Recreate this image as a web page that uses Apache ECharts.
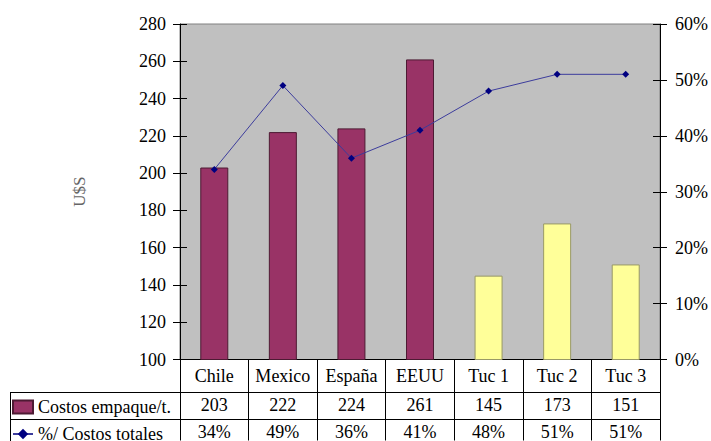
<!DOCTYPE html>
<html><head><meta charset="utf-8">
<script src="https://cdn.jsdelivr.net/npm/echarts@6/dist/echarts.min.js"></script>
<style>html,body{margin:0;padding:0;background:#fff}#c{width:711px;height:441px}</style>
</head><body><div id="c"></div>
<script>
const categories = ['Chile', 'Mexico', 'España', 'EEUU', 'Tuc 1', 'Tuc 2', 'Tuc 3'];
const costosEmpaque = [203, 222, 224, 261, 145, 173, 151];
const pctCostosTotales = [34, 49, 36, 41, 48, 51, 51];
const nombreBarras = 'Costos empaque/t.';
const nombreLinea = '%/ Costos totales';

const FONT = "'Times New Roman', 'DejaVu Serif', serif";
const FS = 18;
const chart = echarts.init(document.getElementById('c'), null, {renderer: 'svg'});
const tickBase = {lineStyle: {color: '#000', width: 1}, length: 7};
const legText = {fontFamily: FONT, fontSize: FS, color: '#000'};

chart.setOption({
  animation: false,
  textStyle: {fontFamily: FONT},
  grid: {left: 180, right: 51, top: 24, bottom: 81, show: true, backgroundColor: '#C0C0C0', borderColor: '#808080', borderWidth: 1},
  legend: [
    {left: 12, top: 398, itemWidth: 20, itemHeight: 13, itemGap: 0, padding: 0,
     textStyle: legText, data: [{name: nombreBarras, icon: 'rect'}]},
    {left: 12, top: 425, itemWidth: 20, itemHeight: 13, itemGap: 0, padding: 0,
     textStyle: legText, data: [{name: nombreLinea}]}
  ],
  xAxis: {
    type: 'category', data: categories, boundaryGap: true,
    axisLine: {lineStyle: {color: '#000', width: 1}},
    axisTick: {show: true, length: 81, inside: false, lineStyle: {color: '#000', width: 1}},
    axisLabel: {
      margin: 0, interval: 0,
      formatter: (v, i) => '{a|' + v + '}\n{b|' + costosEmpaque[i] + '}\n{c|' + pctCostosTotales[i] + '%}',
      rich: {
        a: {fontFamily: FONT, fontSize: FS, color: '#000', lineHeight: 32},
        b: {fontFamily: FONT, fontSize: FS, color: '#000', lineHeight: 27},
        c: {fontFamily: FONT, fontSize: FS, color: '#000', lineHeight: 27}
      }
    },
    splitLine: {show: false}
  },
  yAxis: [
    {type: 'value', position: 'left', min: 100, max: 280, interval: 20,
     name: 'U$S', nameLocation: 'middle', nameGap: 92, nameRotate: 90,
     nameTextStyle: {fontFamily: FONT, fontSize: 17, color: '#666'},
     axisLine: {show: true, lineStyle: {color: '#000'}},
     axisTick: Object.assign({show: true, inside: false}, tickBase),
     axisLabel: {fontFamily: FONT, fontSize: FS, color: '#000', margin: 14},
     splitLine: {show: false}},
    {type: 'value', position: 'right', min: 0, max: 60, interval: 10,
     axisLine: {show: true, lineStyle: {color: '#000'}},
     axisTick: Object.assign({show: true, inside: false}, tickBase),
     axisLabel: {fontFamily: FONT, fontSize: FS, color: '#000', margin: 15, formatter: '{value}%'},
     splitLine: {show: false}},
    {type: 'value', position: 'left', offset: 0, min: 100, max: 280, interval: 20,
     axisLine: {show: false}, axisLabel: {show: false}, splitLine: {show: false},
     axisTick: Object.assign({show: true, inside: true}, tickBase)},
    {type: 'value', position: 'right', offset: 0, min: 0, max: 60, interval: 10,
     axisLine: {show: false}, axisLabel: {show: false}, splitLine: {show: false},
     axisTick: Object.assign({show: true, inside: true}, tickBase)}
  ],
  series: [
    {name: nombreBarras, type: 'bar', yAxisIndex: 0, barWidth: 28,
     itemStyle: {color: '#993366', borderColor: '#4d1a33', borderWidth: 1},
     data: costosEmpaque.map((v, i) => i >= 4 ? {value: v, itemStyle: {color: '#FFFF99', borderColor: '#999966'}} : v)},
    {name: nombreLinea, type: 'line', yAxisIndex: 1, symbol: 'diamond', symbolSize: 7,
     itemStyle: {color: '#000080'}, lineStyle: {color: '#3c3c9c', width: 1},
     data: pctCostosTotales}
  ],
  graphic: [
    {type: 'line', shape: {x1: 10, y1: 392.5, x2: 660, y2: 392.5}, style: {stroke: '#000', lineWidth: 1}},
    {type: 'line', shape: {x1: 10, y1: 419.5, x2: 660, y2: 419.5}, style: {stroke: '#000', lineWidth: 1}},
    {type: 'line', shape: {x1: 10.5, y1: 392, x2: 10.5, y2: 441}, style: {stroke: '#000', lineWidth: 1}}
  ]
});
</script></body></html>
